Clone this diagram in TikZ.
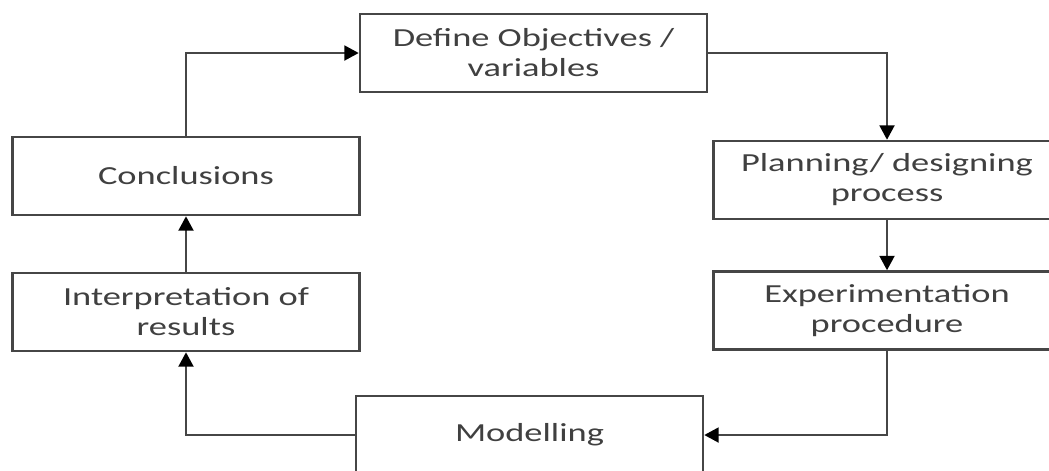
\documentclass[tikz,border=0pt]{standalone}
\usepackage{fontspec}
\setmainfont{Carlito}[FakeStretch=1.4]
\usetikzlibrary{arrows.meta}
\newlength{\du}
\setlength{\du}{0.025cm}
\definecolor{boxline}{RGB}{70,70,70}
\definecolor{boxtext}{RGB}{64,64,64}

\begin{document}
\begin{tikzpicture}[
  stepbox/.style={draw=boxline, line width=2.5\du, fill=white,
    minimum width=347\du, minimum height=78\du, inner sep=0pt,
    align=center, text=boxtext, font=\fontsize{18.5}{21.3}\selectfont},
  flow/.style={draw=boxline, line width=2.5\du,
    -{Triangle[width=0.37cm,length=0.36cm,color=black]}}
]
\pgftransformyscale{-1.000000}
\useasboundingbox (0,0) rectangle (1049\du,470\du);
\clip (0,0) rectangle (1049\du,470\du);
% boxes
\node[stepbox] (define) at (533.5\du,53\du) {Define Objectives /\\variables};
\node[stepbox] (plan) at (887\du,180\du) {Planning/ designing\\process};
\node[stepbox] (exper) at (887\du,310.5\du) {Experimentation\\procedure};
\node[stepbox] (model) at (529.5\du,435\du) {Modelling};
\node[stepbox] (interp) at (186\du,312\du) {Interpretation of\\results};
\node[stepbox] (concl) at (186\du,176\du) {Conclusions};
% arrows
\draw[flow] (concl.north) |- (define.west);
\draw[flow] (define.east) -| (plan.north);
\draw[flow] (plan.south) -- (exper.north);
\draw[flow] (exper.south) |- (model.east);
\draw[flow] (model.west) -| (interp.south);
\draw[flow] (interp.north) -- (concl.south);
\end{tikzpicture}
\end{document}
